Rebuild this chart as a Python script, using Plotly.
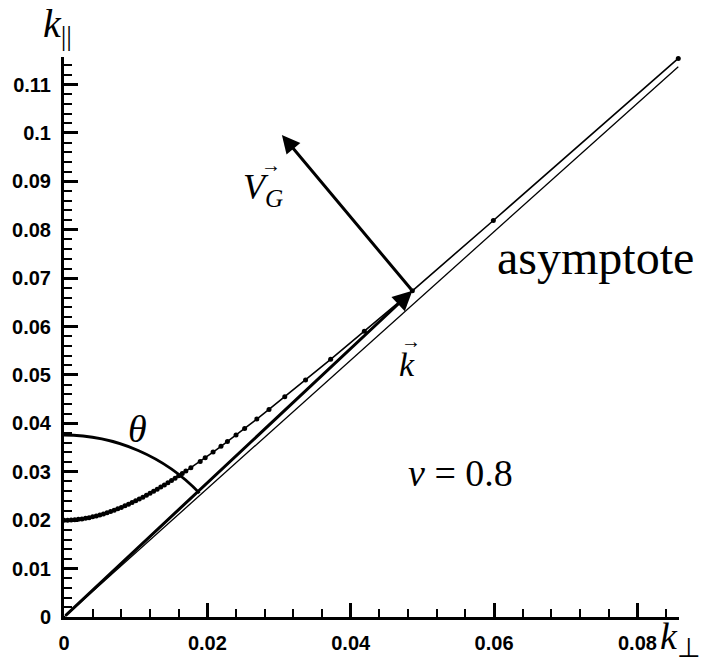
import plotly.graph_objects as go

# Dispersion curve k_par(k_perp), sampled points (dense near the axis)
curve_kperp = [0.0, 0.0005, 0.001, 0.0015, 0.002, 0.0025, 0.003, 0.0035, 0.004, 0.0045,
               0.005, 0.0055, 0.006, 0.0065, 0.007, 0.0075, 0.008, 0.0085, 0.009, 0.0095,
               0.010, 0.0105, 0.011, 0.0115, 0.012, 0.0125, 0.013, 0.0135, 0.014, 0.0145,
               0.015, 0.0155, 0.016, 0.0165, 0.017, 0.0177, 0.0190, 0.0197, 0.0208, 0.0219,
               0.0228, 0.0240, 0.0252, 0.0269, 0.0286, 0.0308, 0.0337, 0.0372, 0.0419,
               0.0486, 0.0599, 0.0857]
curve_kpar = [0.02000, 0.02001, 0.02004, 0.02010, 0.02018, 0.02027, 0.02039, 0.02053, 0.02069, 0.02087,
              0.02107, 0.02129, 0.02152, 0.02178, 0.02205, 0.02234, 0.02264, 0.02296, 0.02329, 0.02364,
              0.02400, 0.02437, 0.02475, 0.02515, 0.02556, 0.02598, 0.02641, 0.02684, 0.02729, 0.02775,
              0.02821, 0.02868, 0.02916, 0.02965, 0.03014, 0.03085, 0.03215, 0.03290, 0.03407, 0.03526,
              0.03625, 0.03759, 0.03895, 0.04090, 0.04288, 0.04548, 0.04897, 0.05324, 0.05906,
              0.06740, 0.08192, 0.11540]

# Asymptote through the origin
asym_kperp = [0.0, 0.0857]
asym_kpar = [0.0, 0.1137]

# Wave vector k and group velocity V_G
k_tail = (0.0, 0.0)
k_tip = (0.0486, 0.0674)
vg_tip = (0.0304, 0.0996)

# Angle arc theta (cubic Bezier control points)
arc_kperp = [0.0, 0.0072, 0.0141, 0.0189]
arc_kpar = [0.0376, 0.0376, 0.0331, 0.0256]

# Axis ticks
x_tickvals = [0, 0.02, 0.04, 0.06, 0.08]
x_ticktext = ["0", "0.02", "0.04", "0.06", "0.08"]
y_tickvals = [0, 0.01, 0.02, 0.03, 0.04, 0.05, 0.06, 0.07, 0.08, 0.09, 0.10, 0.11]
y_ticktext = ["0", "0.01", "0.02", "0.03", "0.04", "0.05", "0.06", "0.07", "0.08", "0.09", "0.1", "0.11"]

SERIF = "Liberation Serif"
SANS = "Liberation Sans"

fig = go.Figure()

fig.add_trace(go.Scatter(
    x=asym_kperp, y=asym_kpar, mode="lines",
    line=dict(color="black", width=1.3), cliponaxis=False, hoverinfo="skip"))

fig.add_trace(go.Scatter(
    x=curve_kperp, y=curve_kpar, mode="lines+markers",
    line=dict(color="black", width=1.6),
    marker=dict(color="black", size=5),
    cliponaxis=False, hoverinfo="skip"))

# theta arc
fig.add_shape(
    type="path", xref="x", yref="y",
    path=(f"M {arc_kperp[0]},{arc_kpar[0]} C {arc_kperp[1]},{arc_kpar[1]} "
          f"{arc_kperp[2]},{arc_kpar[2]} {arc_kperp[3]},{arc_kpar[3]}"),
    line=dict(color="black", width=2.8))

# vector arrows
fig.add_annotation(
    x=k_tip[0], y=k_tip[1], ax=k_tail[0], ay=k_tail[1],
    xref="x", yref="y", axref="x", ayref="y", text="",
    showarrow=True, arrowhead=2, arrowsize=1.3, arrowwidth=3, arrowcolor="black")
fig.add_annotation(
    x=vg_tip[0], y=vg_tip[1], ax=k_tip[0], ay=k_tip[1],
    xref="x", yref="y", axref="x", ayref="y", text="",
    showarrow=True, arrowhead=2, arrowsize=1.2, arrowwidth=3, arrowcolor="black")


def label(x, y, text, size, ref="x"):
    yref = "y" if ref == "x" else "paper"
    fig.add_annotation(x=x, y=y, xref=ref, yref=yref, text=text, showarrow=False,
                       font=dict(family=SERIF, size=size, color="black"),
                       xanchor="center", yanchor="middle")


# axis titles (paper coordinates, outside the plotting area)
label(-0.010, 1.055, "<i>k</i><sub>||</sub>", 40, ref="paper")
label(1.003, -0.040, "<i>k</i><sub>⊥</sub>", 38, ref="paper")

label(0.0103, 0.0388, "<i>θ</i>", 38)
label(0.0277, 0.0884, "<i>V</i><sub><i>G</i></sub>", 36)
label(0.0289, 0.0934, "→", 20)
label(0.0479, 0.0522, "<i>k</i>", 34)
label(0.0484, 0.0570, "→", 20)
label(0.0742, 0.0742, "asymptote", 48)
label(0.0553, 0.0298, "<i>ν</i> = 0.8", 38)

axis_common = dict(
    showline=True, linecolor="black", linewidth=3,
    ticks="inside", ticklen=14, tickwidth=3, tickcolor="black",
    showgrid=False, zeroline=False,
    tickfont=dict(family=SANS, size=20, color="black", weight="bold"),
    ticklabelstandoff=6,
)

fig.update_xaxes(range=[0, 0.0858], tickvals=x_tickvals, ticktext=x_ticktext,
                 minor=dict(dtick=0.004, tick0=0, ticks="inside", ticklen=8,
                            tickwidth=1.5, tickcolor="black", showgrid=False),
                 **axis_common)
fig.update_yaxes(range=[0, 0.1157], tickvals=y_tickvals, ticktext=y_ticktext,
                 minor=dict(dtick=0.002, tick0=0, ticks="inside", ticklen=8,
                            tickwidth=1.5, tickcolor="black", showgrid=False),
                 **axis_common)

fig.update_layout(
    width=704, height=666,
    margin=dict(l=63, r=25, t=57, b=46),
    plot_bgcolor="white", paper_bgcolor="white",
    showlegend=False,
)

fig.write_html("out.html")
